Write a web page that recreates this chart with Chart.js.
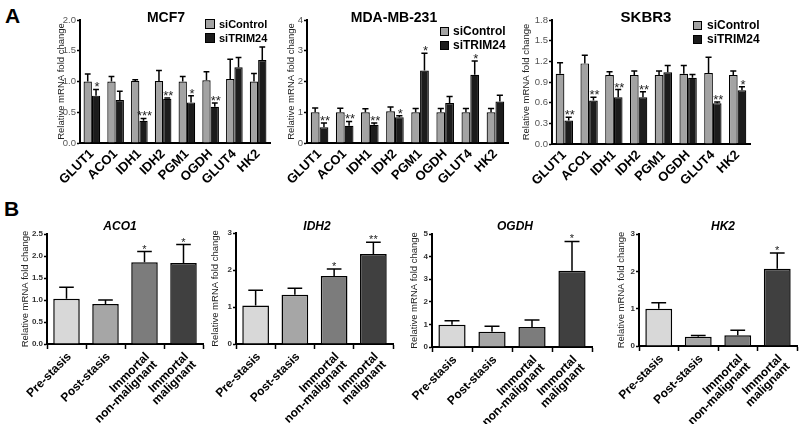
<!DOCTYPE html>
<html><head><meta charset="utf-8">
<script src="https://cdn.jsdelivr.net/npm/chart.js@4/dist/chart.umd.min.js"></script>
<style>
html,body{margin:0;padding:0;background:#fff;width:800px;height:424px;overflow:hidden;position:relative;font-family:Arial,"Liberation Sans",sans-serif;}
canvas{position:absolute;}
.lab{position:absolute;font-weight:bold;font-size:21px;line-height:21px;color:#000;}
</style></head><body>
<div class="lab" style="left:5px;top:5px">A</div>
<div class="lab" style="left:4px;top:198px">B</div>
<canvas id="cMCF7"></canvas>
<canvas id="cMDA"></canvas>
<canvas id="cSKBR3"></canvas>
<canvas id="cACO1"></canvas>
<canvas id="cIDH2"></canvas>
<canvas id="cOGDH"></canvas>
<canvas id="cHK2"></canvas>
<script>
// ---------- DATA ----------
const genesA = ["GLUT1","ACO1","IDH1","IDH2","PGM1","OGDH","GLUT4","HK2"];
const seriesA = ["siControl","siTRIM24"];

const mcf7Control    = [1.00,1.00,1.01,1.01,1.00,1.02,1.04,1.00];
const mcf7ControlErr = [0.12,0.08,0.02,0.17,0.08,0.14,0.32,0.13];
const mcf7Trim       = [0.77,0.70,0.36,0.72,0.66,0.59,1.23,1.35];
const mcf7TrimErr    = [0.10,0.14,0.04,0.01,0.11,0.06,0.16,0.21];
const mcf7Stars      = ["*","","***","**","*","**","",""];
const mcf7YTicks     = ["0.0","0.5","1.0","1.5","2.0"];

const mdaControl     = [1.00,1.00,1.00,1.03,1.00,1.00,1.00,1.00];
const mdaControlErr  = [0.14,0.13,0.11,0.14,0.12,0.12,0.12,0.12];
const mdaTrim        = [0.51,0.56,0.59,0.84,2.36,1.30,2.22,1.35];
const mdaTrimErr     = [0.14,0.14,0.06,0.05,0.56,0.21,0.45,0.20];
const mdaStars       = ["**","**","**","*","*","","*",""];
const mdaYTicks      = ["0","1","2","3","4"];

const skbr3Control    = [1.02,1.17,1.00,1.00,1.00,1.02,1.03,1.00];
const skbr3ControlErr = [0.16,0.12,0.05,0.06,0.06,0.12,0.23,0.06];
const skbr3Trim       = [0.34,0.63,0.68,0.68,1.04,0.96,0.59,0.78];
const skbr3TrimErr    = [0.05,0.05,0.11,0.08,0.10,0.05,0.02,0.05];
const skbr3Stars      = ["**","**","**","**","","","**","*"];
const skbr3YTicks     = ["0.0","0.3","0.6","0.9","1.2","1.5","1.8"];

const stagesB = ["Pre-stasis","Post-stasis",["Immortal","non-malignant"],["Immortal","malignant"]];

const aco1Vals  = [1.03,0.91,1.86,1.84];
const aco1Err   = [0.26,0.09,0.24,0.42];
const aco1Stars = ["","","*","*"];
const aco1YTicks = ["0.0","0.5","1.0","1.5","2.0","2.5"];

const idh2Vals  = [1.04,1.33,1.84,2.43];
const idh2Err   = [0.41,0.18,0.19,0.32];
const idh2Stars = ["","","*","**"];
const idh2YTicks = ["0","1","2","3"];

const ogdhVals  = [0.99,0.67,0.89,3.37];
const ogdhErr   = [0.17,0.25,0.30,1.30];
const ogdhStars = ["","","","*"];
const ogdhYTicks = ["0","1","2","3","4","5"];

const hk2Vals   = [1.00,0.25,0.29,2.07];
const hk2Err    = [0.16,0.03,0.13,0.42];
const hk2Stars  = ["","","","*"];
const hk2YTicks = ["0","1","2","3"];

// ---------- STYLE ----------
const FONT = "Arial, 'Liberation Sans', sans-serif";
const colControl = "#a3a3a3";
const colTrim = "#1c1c1c";
const colsB = ["#d8d8d8","#a6a6a6","#7c7c7c","#404040"];

const extra = {}; // per canvas drawing info

const annotPlugin = {
  id: 'annot',
  afterDatasetsDraw(chart) {
    const info = extra[chart.canvas.id];
    if (!info) return;
    const ctx = chart.ctx;
    const y = chart.scales.y;
    ctx.save();
    chart.data.datasets.forEach((ds, di) => {
      const errs = info.errors[di];
      const stars = info.stars[di];
      const meta = chart.getDatasetMeta(di);
      meta.data.forEach((bar, i) => {
        const v = ds.data[i], e = errs[i];
        const yTop = y.getPixelForValue(v + e);
        const cw = bar.width * info.capFrac;
        ctx.strokeStyle = '#000';
        ctx.lineWidth = info.errLW;
        ctx.beginPath();
        ctx.moveTo(bar.x, bar.y);
        ctx.lineTo(bar.x, yTop);
        ctx.moveTo(bar.x - cw / 2, yTop);
        ctx.lineTo(bar.x + cw / 2, yTop);
        ctx.stroke();
        if (stars && stars[i]) {
          ctx.fillStyle = '#222';
          ctx.font = info.starFont;
          ctx.textAlign = 'center';
          ctx.textBaseline = 'alphabetic';
          ctx.fillText(stars[i], bar.x + info.starDx, yTop + info.starDy);
        }
      });
    });
    // title
    const x0 = info.x0, y0 = info.y0;
    ctx.fillStyle = '#000';
    ctx.font = info.titleFont;
    ctx.textAlign = 'center';
    ctx.textBaseline = 'middle';
    ctx.fillText(info.title, info.titleX - x0, info.titleY - y0);
    // legend
    if (info.legend) {
      const lg = info.legend;
      chart.data.datasets.forEach((ds, di) => {
        const by = lg.y + di * lg.dy - y0;
        const bx = lg.x - x0;
        ctx.fillStyle = ds.backgroundColor;
        ctx.fillRect(bx, by, lg.w, lg.h);
        ctx.strokeStyle = '#000';
        ctx.lineWidth = 1;
        ctx.strokeRect(bx + 0.5, by + 0.5, lg.w - 1, lg.h - 1);
        ctx.fillStyle = '#000';
        ctx.font = lg.font;
        ctx.textAlign = 'left';
        ctx.textBaseline = 'middle';
        ctx.fillText(ds.label, bx + lg.w + lg.gap, by + lg.h / 2 + 0.5);
      });
    }
    ctx.restore();
  }
};
Chart.register(annotPlugin);

function makeChart(id, o) {
  const c = document.getElementById(id);
  const [x0, y0, x1, y1] = o.box;
  const [L, T, R, B] = o.area;
  c.width = x1 - x0; c.height = y1 - y0;
  c.style.left = x0 + 'px'; c.style.top = y0 + 'px';
  c.style.width = (x1 - x0) + 'px'; c.style.height = (y1 - y0) + 'px';
  const scaleLeft = o.yTitleX - o.yTitleSize * 0.6;
  const yW = L - scaleLeft;
  const xH = y1 - B;
  extra[id] = Object.assign({x0, y0}, o.extra);
  return new Chart(c, {
    type: 'bar',
    data: { labels: o.labels, datasets: o.datasets },
    options: {
      responsive: false,
      animation: false,
      devicePixelRatio: 1,
      layout: { padding: { left: scaleLeft - x0, top: T - y0, right: x1 - R, bottom: 0 } },
      plugins: { legend: { display: false }, title: { display: false }, tooltip: { enabled: false } },
      datasets: { bar: { categoryPercentage: o.catPct, barPercentage: o.barPct, borderColor: '#000', borderWidth: o.borderW, borderSkipped: 'bottom' } },
      scales: {
        x: {
          type: 'category',
          offset: true,
          afterFit: (s) => { s.height = xH; },
          border: { display: true, color: '#000', width: 2 },
          grid: { display: true, drawOnChartArea: false, drawTicks: true, tickLength: o.xTickLen, tickColor: o.xTickLen > 2 ? '#000' : 'rgba(0,0,0,0)', tickWidth: 1.5 },
          ticks: { autoSkip: false, minRotation: 45, maxRotation: 45, padding: o.xPad, labelOffset: o.xLabelOffset, color: '#000', font: { family: FONT, size: o.xFontSize, weight: 'bold', lineHeight: o.xLineH } }
        },
        y: {
          min: 0, max: o.yMax,
          afterFit: (s) => { s.width = yW; },
          border: { display: true, color: '#000', width: 2 },
          grid: { display: true, drawOnChartArea: false, drawTicks: true, tickLength: 3, tickColor: '#000', tickWidth: 1.5 },
          ticks: { stepSize: o.yStep, padding: 1, color: o.yTickColor, font: { family: FONT, size: o.yFontSize, weight: o.yFontWeight },
                   callback: (v, i) => o.yTicks[i] !== undefined ? o.yTicks[i] : String(v) },
          title: { display: true, text: 'Relative mRNA fold change', color: '#222', padding: 0,
                   font: { family: FONT, size: o.yTitleSize, lineHeight: 1.2 } }
        }
      }
    }
  });
}

function panelA(id, o) {
  return makeChart(id, {
    box: o.box, area: o.area, yTitleX: o.yTitleX, yTitleSize: 9.5,
    labels: genesA,
    datasets: [
      { label: seriesA[0], data: o.control, backgroundColor: colControl },
      { label: seriesA[1], data: o.trim, backgroundColor: colTrim }
    ],
    catPct: 0.7, barPct: 1.0, borderW: 1.2,
    xTickLen: 2, xPad: 2, xLabelOffset: 0, xFontSize: 13, xLineH: 1.05,
    yMax: o.yMax, yStep: o.yStep, yTicks: o.yTicks, yFontSize: 9.5, yFontWeight: 'normal', yTickColor: '#555',
    extra: {
      errors: [o.controlErr, o.trimErr], stars: [null, o.stars],
      capFrac: 0.7, errLW: 1.5, starFont: "13px " + FONT, starDx: 1, starDy: 2,
      title: o.title, titleFont: "bold " + o.titleSize + "px " + FONT, titleX: o.titleX, titleY: 18,
      legend: o.legend
    }
  });
}

panelA('cMCF7', {
  box: [40, 0, 275, 198], area: [80, 20, 270, 143], yTitleX: 61.5,
  control: mcf7Control, controlErr: mcf7ControlErr, trim: mcf7Trim, trimErr: mcf7TrimErr, stars: mcf7Stars,
  yMax: 2, yStep: 0.5, yTicks: mcf7YTicks,
  title: "MCF7", titleSize: 14, titleX: 166,
  legend: { x: 205, y: 19, dy: 14, w: 10, h: 10, gap: 4, font: "bold 11px " + FONT }
});
panelA('cMDA', {
  box: [275, 0, 515, 198], area: [307, 20, 508, 143], yTitleX: 291.5,
  control: mdaControl, controlErr: mdaControlErr, trim: mdaTrim, trimErr: mdaTrimErr, stars: mdaStars,
  yMax: 4, yStep: 1, yTicks: mdaYTicks,
  title: "MDA-MB-231", titleSize: 14, titleX: 394,
  legend: { x: 440, y: 27, dy: 14, w: 9, h: 9, gap: 4, font: "bold 12px " + FONT }
});
panelA('cSKBR3', {
  box: [515, 0, 800, 198], area: [552, 20, 750, 144], yTitleX: 526.5,
  control: skbr3Control, controlErr: skbr3ControlErr, trim: skbr3Trim, trimErr: skbr3TrimErr, stars: skbr3Stars,
  yMax: 1.8, yStep: 0.3, yTicks: skbr3YTicks,
  title: "SKBR3", titleSize: 15, titleX: 646,
  legend: { x: 693, y: 21, dy: 14, w: 9, h: 9, gap: 5, font: "bold 12px " + FONT }
});

function panelB(id, o) {
  return makeChart(id, {
    box: o.box, area: o.area, yTitleX: o.yTitleX, yTitleSize: 9.5,
    labels: stagesB,
    datasets: [ { label: o.title, data: o.vals, backgroundColor: colsB } ],
    catPct: 0.68, barPct: 1.0, borderW: 1.5,
    xTickLen: 5, xPad: 2, xLabelOffset: 3, xFontSize: 12, xLineH: 0.92,
    yMax: o.yMax, yStep: o.yStep, yTicks: o.yTicks, yFontSize: 8, yFontWeight: 'bold', yTickColor: '#333',
    extra: {
      errors: [o.err], stars: [o.stars],
      capFrac: 0.55, errLW: 1.5, starFont: "11px " + FONT, starDx: 0, starDy: 1,
      title: o.title, titleFont: "italic bold 12px " + FONT, titleX: o.titleX, titleY: 227,
      legend: null
    }
  });
}

panelB('cACO1', { box: [0, 205, 207, 424], area: [47, 234, 203, 344], yTitleX: 25,
  vals: aco1Vals, err: aco1Err, stars: aco1Stars, yMax: 2.5, yStep: 0.5, yTicks: aco1YTicks,
  title: "ACO1", titleX: 120 });
panelB('cIDH2', { box: [200, 205, 397, 424], area: [236, 233, 393, 344], yTitleX: 215,
  vals: idh2Vals, err: idh2Err, stars: idh2Stars, yMax: 3, yStep: 1, yTicks: idh2YTicks,
  title: "IDH2", titleX: 317 });
panelB('cOGDH', { box: [398, 205, 597, 424], area: [432, 234, 592, 347], yTitleX: 414,
  vals: ogdhVals, err: ogdhErr, stars: ogdhStars, yMax: 5, yStep: 1, yTicks: ogdhYTicks,
  title: "OGDH", titleX: 515 });
panelB('cHK2', { box: [600, 205, 800, 424], area: [639, 234, 797, 346], yTitleX: 621,
  vals: hk2Vals, err: hk2Err, stars: hk2Stars, yMax: 3, yStep: 1, yTicks: hk2YTicks,
  title: "HK2", titleX: 723 });
</script>
</body></html>
